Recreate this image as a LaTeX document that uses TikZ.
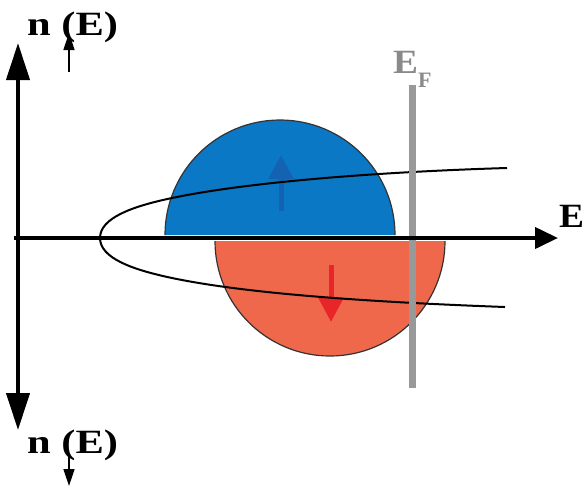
\documentclass[tikz,border=0pt]{standalone}
\usepackage{fontspec}
\setmainfont{Liberation Serif}
\usetikzlibrary{arrows.meta}
\definecolor{upblue}{HTML}{0A78C4}
\definecolor{upbluearrow}{HTML}{1463B3}
\definecolor{downred}{HTML}{F0684C}
\definecolor{downredarrow}{HTML}{E8262A}
\definecolor{fermigray}{HTML}{999999}
\definecolor{fermitext}{HTML}{8A8A8A}
\tikzset{
  axis/.style={line width=4pt, black},
  vtip/.style={-{Triangle[length=37pt,width=23pt]}},
  htip/.style={-{Triangle[length=23pt,width=21pt]}},
  smallarrow/.style={line width=1.5pt, -{Triangle[length=17pt,width=11pt]}},
  spinarrow/.style={line width=5pt, -{Triangle[length=24pt,width=24pt]}},
  dos/.style={line width=2pt, black},
  rim/.style={line width=1.2pt, black!80},
  lbl/.style={inner sep=0pt, font=\fontsize{34}{34}\selectfont\bfseries},
}
\begin{document}
\begin{tikzpicture}[x=1pt,y=-1pt]
\useasboundingbox (0,0) rectangle (585,488);
% spin-up half disc
\fill[upblue] (165,235) arc[start angle=180,end angle=360,radius=115] -- cycle;
\draw[rim] (165,235) arc[start angle=180,end angle=360,radius=115];
% spin-down half disc
\fill[downred] (215,241) arc[start angle=180,end angle=0,radius=115] -- cycle;
\draw[rim] (215,241) arc[start angle=180,end angle=0,radius=115];
% spin arrows
\coordinate (ub) at (281,211);
\coordinate (ut) at (281,155);
\draw[spinarrow, upbluearrow] (ub) -- (ut);
\coordinate (dt) at (331,265);
\coordinate (db) at (331,322);
\draw[spinarrow, downredarrow] (dt) -- (db);
% free-electron-like DOS curve
\coordinate (cu) at (507,168);
\coordinate (cv) at (100,238);
\coordinate (cd) at (505,307);
\draw[dos] (cu) .. controls (387,171.6) and (252,181.2) .. (172,198)
  .. controls (132,206.4) and (100,218) .. (cv)
  .. controls (100,258) and (132,269.6) .. (172,278)
  .. controls (252,294.8) and (385,302.6) .. (cd);
% Fermi level
\coordinate (ftop) at (412,85);
\coordinate (fbot) at (412,388);
\draw[line width=7pt, fermigray] (ftop) -- (fbot);
% axes
\coordinate (o) at (14,238);
\coordinate (ex) at (558,238);
\draw[axis, htip] (o) -- (ex);
\coordinate (vc) at (18,238);
\coordinate (vt) at (18,43);
\coordinate (vb) at (18,430);
\draw[axis, vtip] (vc) -- (vt);
\draw[axis, vtip] (vc) -- (vb);
% labels
\node[lbl, anchor=base west] (ntop) at (27,35) {\scalebox{1.25}[1]{n (E)}};
\node[lbl, anchor=base west] (nbot) at (27,453) {\scalebox{1.25}[1]{n (E)}};
\node[lbl, anchor=base west] (elab) at (559,227) {\scalebox{1.1}[1]{E}};
\node[lbl, anchor=base west, text=fermitext] (ef) at (393,73) {\scalebox{1.1}[1]{E}\raisebox{-14pt}{\fontsize{22}{22}\selectfont F}};
% small spin arrows in labels
\coordinate (sa1) at (69,72);
\coordinate (sa2) at (69,33);
\draw[smallarrow] (sa1) -- (sa2);
\coordinate (sb1) at (69,456);
\coordinate (sb2) at (69,486);
\draw[smallarrow] (sb1) -- (sb2);
\end{tikzpicture}
\end{document}
